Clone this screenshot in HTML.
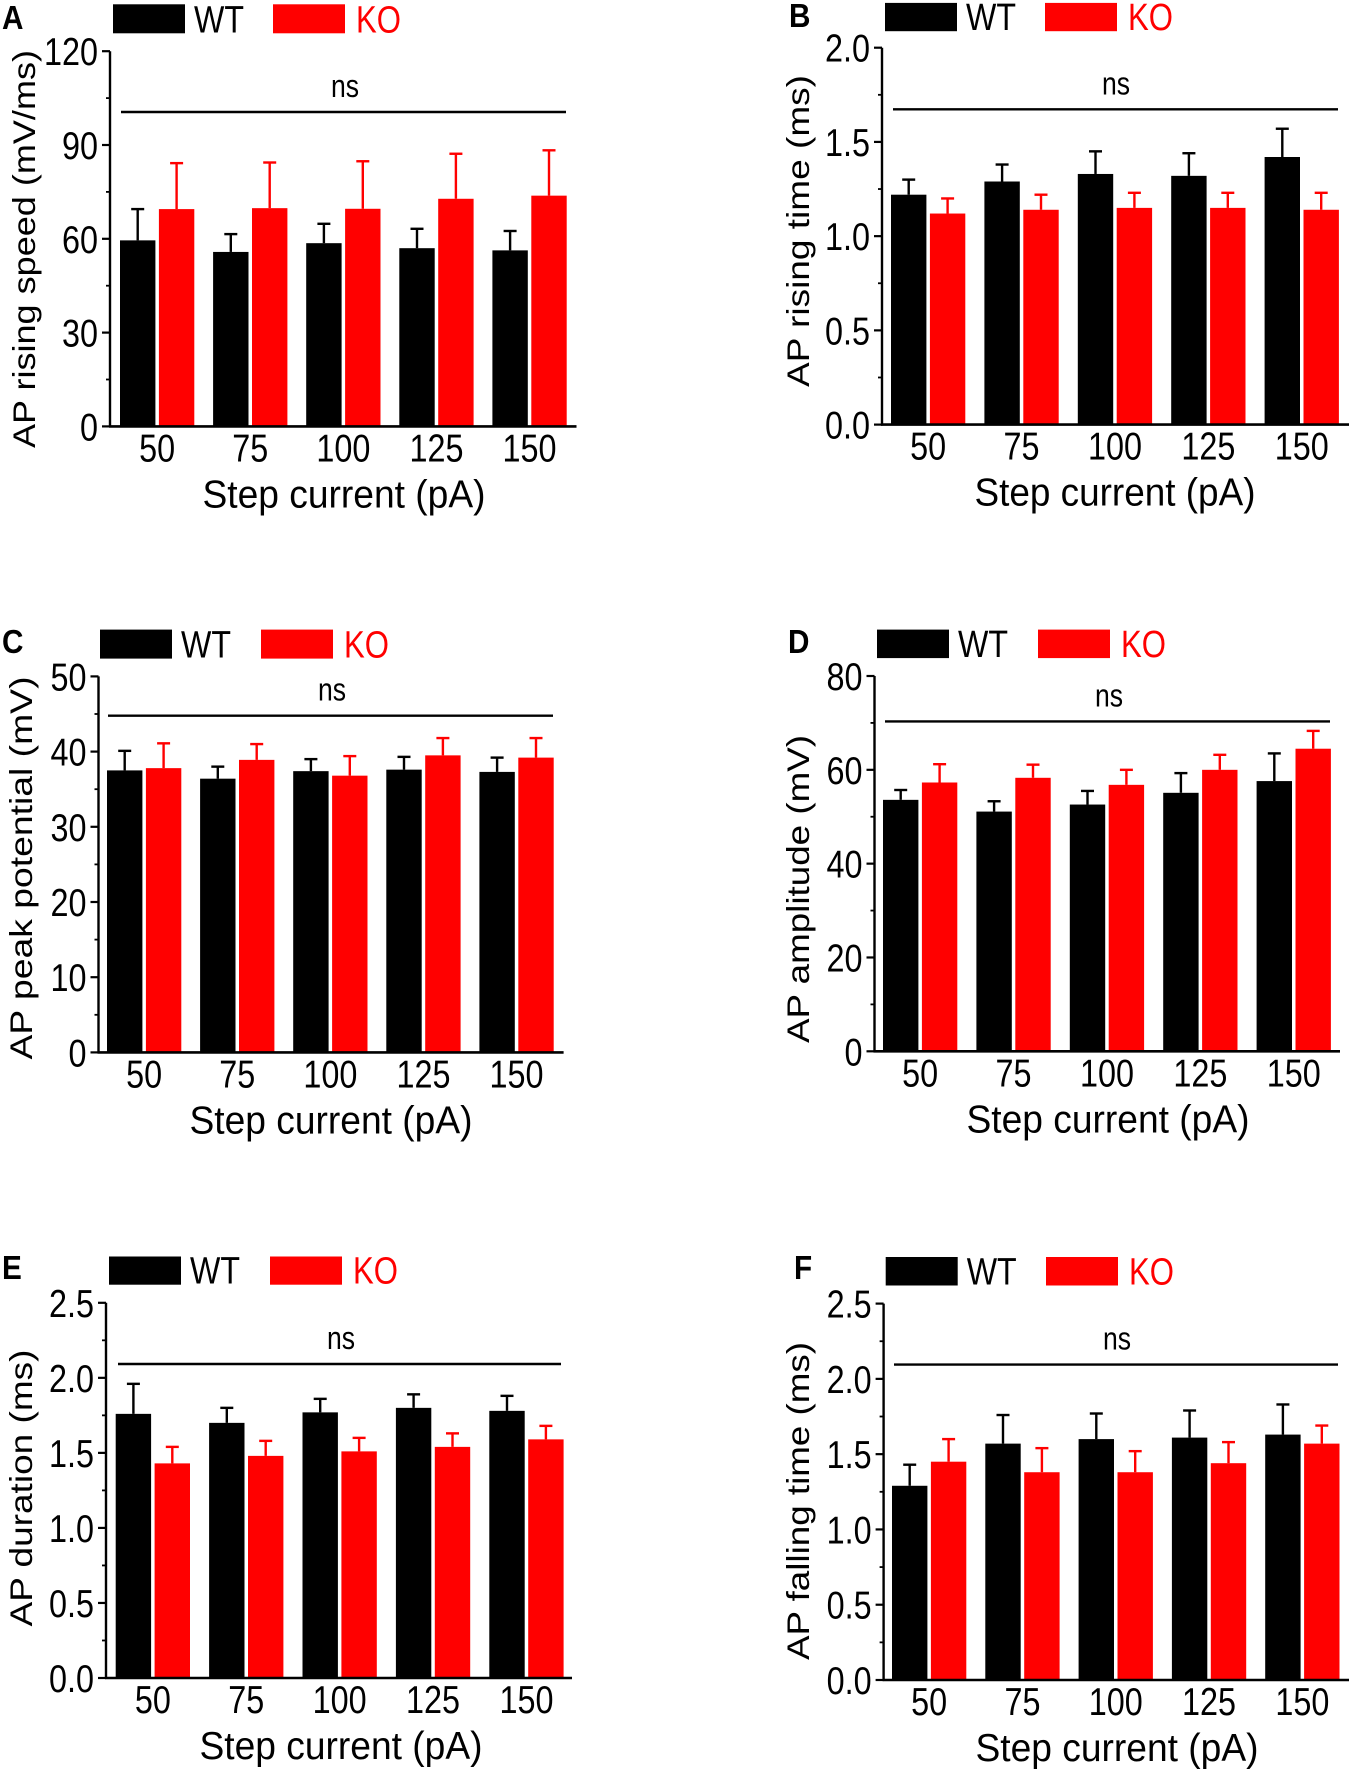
<!DOCTYPE html>
<html><head><meta charset="utf-8"><style>
html,body{margin:0;padding:0;background:#fff;}
svg{display:block;font-family:"Liberation Sans",Arial,sans-serif;}
</style></head><body>
<svg id="fig" width="1350" height="1769" viewBox="0 0 1350 1769" xmlns="http://www.w3.org/2000/svg"></svg>
<script>
const categories = ["50","75","100","125","150"];
// Panel A
const aWT = [59.5,55.8,58.6,57.0,56.3];
const aWTErr = [69.5,61.5,64.8,63.2,62.5];
const aKO = [69.5,69.8,69.6,72.8,73.8];
const aKOErr = [84.2,84.4,84.8,87.2,88.3];
const aTicks = [0,30,60,90,120];
// Panel B
const bWT = [1.22,1.29,1.33,1.32,1.42];
const bWTErr = [1.30,1.38,1.45,1.44,1.57];
const bKO = [1.12,1.14,1.15,1.15,1.14];
const bKOErr = [1.20,1.22,1.23,1.23,1.23];
const bTicks = ["0.0","0.5","1.0","1.5","2.0"];
// Panel C
const cWT = [37.5,36.4,37.4,37.6,37.3];
const cWTErr = [40.1,38.0,39.0,39.3,39.2];
const cKO = [37.8,38.9,36.8,39.5,39.2];
const cKOErr = [41.1,41.0,39.4,41.8,41.8];
const cTicks = [0,10,20,30,40,50];
// Panel D
const dWT = [53.6,51.1,52.6,55.1,57.6];
const dWTErr = [55.7,53.3,55.5,59.3,63.5];
const dKO = [57.3,58.3,56.8,60.0,64.5];
const dKOErr = [61.2,61.1,60.0,63.2,68.3];
const dTicks = [0,20,40,60,80];
// Panel E
const eWT = [1.76,1.70,1.77,1.80,1.78];
const eWTErr = [1.96,1.80,1.86,1.89,1.88];
const eKO = [1.43,1.48,1.51,1.54,1.59];
const eKOErr = [1.54,1.58,1.60,1.63,1.68];
const eTicks = ["0.0","0.5","1.0","1.5","2.0","2.5"];
// Panel F
const fWT = [1.29,1.57,1.60,1.61,1.63];
const fWTErr = [1.43,1.76,1.77,1.79,1.83];
const fKO = [1.45,1.38,1.38,1.44,1.57];
const fKOErr = [1.60,1.54,1.52,1.58,1.69];
const fTicks = ["0.0","0.5","1.0","1.5","2.0","2.5"];

const NS = "http://www.w3.org/2000/svg";
const svg = document.getElementById('fig');
function mk(tag, attrs, parent){
  const e = document.createElementNS(NS, tag);
  for (const k in attrs) e.setAttribute(k, attrs[k]);
  (parent||svg).appendChild(e);
  return e;
}

const panels = [
 {id:'a',L:'A',ax:110,top:51.2,bot:426.4,xe:576.5,b0:120,step:93.1,ns1:121,ns2:566,nsy:112,nsx:345,lgx:113,lgy:4.3,lgh:29,kox:273,lx:2,lb:29,
  ymax:120,minor:15,ticks:aTicks,wt:aWT,wte:aWTErr,ko:aKO,koe:aKOErr,yt:"AP rising speed (mV/ms)",ytx:35,yty:249,ytl:398,xtc:344,xtl:283},
 {id:'b',L:'B',ax:882,top:47.7,bot:424.6,xe:1349,b0:891,step:93.4,ns1:893,ns2:1338,nsy:109.3,nsx:1116,lgx:885,lgy:2.9,lgh:28.3,kox:1045,lx:789,lb:27,
  ymax:2,minor:0.25,ticks:bTicks,wt:bWT,wte:bWTErr,ko:bKO,koe:bKOErr,yt:"AP rising time (ms)",ytx:809,yty:231,ytl:312,xtc:1115,xtl:281},
 {id:'c',L:'C',ax:98.5,top:676.4,bot:1052.4,xe:563.6,b0:107,step:93.1,ns1:108,ns2:553,nsy:715.7,nsx:332,lgx:100,lgy:629.6,lgh:29,kox:261,lx:2,lb:653,
  ymax:50,minor:5,ticks:cTicks,wt:cWT,wte:cWTErr,ko:cKO,koe:cKOErr,yt:"AP peak potential (mV)",ytx:32,yty:868,ytl:383,xtc:331,xtl:283},
 {id:'d',L:'D',ax:874.5,top:676,bot:1051.3,xe:1340,b0:883,step:93.4,ns1:885,ns2:1330,nsy:721.4,nsx:1109,lgx:877,lgy:629.6,lgh:28.5,kox:1038,lx:788,lb:653,
  ymax:80,minor:10,ticks:dTicks,wt:dWT,wte:dWTErr,ko:dKO,koe:dKOErr,yt:"AP amplitude (mV)",ytx:809,yty:889,ytl:308,xtc:1108,xtl:283},
 {id:'e',L:'E',ax:106,top:1302.8,bot:1678,xe:572,b0:115.7,step:93.4,ns1:118,ns2:561,nsy:1364,nsx:341,lgx:109,lgy:1256.5,lgh:28.2,kox:270,lx:2,lb:1279,
  ymax:2.5,minor:0.25,ticks:eTicks,wt:eWT,wte:eWTErr,ko:eKO,koe:eKOErr,yt:"AP duration (ms)",ytx:32,yty:1488,ytl:277,xtc:341,xtl:283},
 {id:'f',L:'F',ax:883.6,top:1303.6,bot:1680,xe:1349,b0:892,step:93.3,ns1:894,ns2:1338,nsy:1364.6,nsx:1117,lgx:885.7,lgy:1257,lgh:28.5,kox:1046,lx:794,lb:1279,
  ymax:2.5,minor:0.25,ticks:fTicks,wt:fWT,wte:fWTErr,ko:fKO,koe:fKOErr,yt:"AP falling time (ms)",ytx:809,yty:1501,ytl:318,xtc:1117,xtl:283}
];

const BW = 35.4, KOOFF = 38.9, SX = 0.83;

panels.forEach(p => {
  const g = mk('g', {});
  
  
  const y = v => p.bot - (v / p.ymax) * (p.bot - p.top);

  const lt = mk('text', {transform:`translate(${p.lx},${p.lb}) scale(0.9,1)`, 'font-size':33, 'font-weight':'bold', fill:'#000'}, g);
  lt.textContent = p.L;
  
  

  const lw = mk('rect', {x:p.lgx, y:p.lgy, width:72, height:p.lgh, fill:'#000'}, g);
  
  
  const ltw = mk('text', {x:p.lgx+81, y:p.lgy+p.lgh-1, 'font-size':38, textLength:50, lengthAdjust:'spacingAndGlyphs', fill:'#000'}, g);
  ltw.textContent = 'WT';
  
  
  const lk = mk('rect', {x:p.kox, y:p.lgy, width:72, height:p.lgh, fill:'#ff0000'}, g);
  
  
  const ltk = mk('text', {x:p.kox+83, y:p.lgy+p.lgh-1, 'font-size':38, textLength:45, lengthAdjust:'spacingAndGlyphs', fill:'#ff0000'}, g);
  ltk.textContent = 'KO';
  
  

  categories.forEach((c, i) => {
    const xw = p.b0 + i * p.step;
    const xk = xw + KOOFF;
    [[xw, p.wt[i], p.wte[i], '#000', 'wt'], [xk, p.ko[i], p.koe[i], '#ff0000', 'ko']].forEach(([bx, v, e, col, s]) => {
      const cx = bx + BW / 2;
      const el = mk('line', {x1:cx, x2:cx, y1:y(v), y2:y(e), stroke:col, 'stroke-width':2.4}, g);
      
      
      const cap = mk('line', {x1:cx-6.5, x2:cx+6.5, y1:y(e), y2:y(e), stroke:col, 'stroke-width':2.4}, g);
      
      
      const r = mk('rect', {x:bx, y:y(v), width:BW, height:p.bot - y(v), fill:col}, g);
      
      
    });
    const xl = mk('text', {transform:`translate(${xw + (KOOFF + BW) / 2},${p.bot + 35}) scale(${SX},1)`, 'text-anchor':'middle', 'font-size':39, fill:'#000'}, g);
    xl.textContent = c;
    
    
  });

  const ya = mk('line', {x1:p.ax, x2:p.ax, y1:p.top, y2:p.bot+1, stroke:'#000', 'stroke-width':2.4}, g);
  
  
  const xa = mk('line', {x1:p.ax-1, x2:p.xe, y1:p.bot, y2:p.bot, stroke:'#000', 'stroke-width':2.6}, g);
  
  

  for (let v = p.minor; v < p.ymax; v += 2 * p.minor) {
    const mt = mk('line', {x1:p.ax-4, x2:p.ax, y1:y(v), y2:y(v), stroke:'#000', 'stroke-width':1.8}, g);
    
    
  }
  p.ticks.forEach(t => {
    const v = parseFloat(t);
    const tk = mk('line', {x1:p.ax-8, x2:p.ax, y1:y(v), y2:y(v), stroke:'#000', 'stroke-width':2.2}, g);
    
    
    const tl = mk('text', {transform:`translate(${p.ax-12},${y(v)+14}) scale(${SX},1)`, 'text-anchor':'end', 'font-size':39, fill:'#000'}, g);
    tl.textContent = String(t);
    
    
  });

  const nl = mk('line', {x1:p.ns1, x2:p.ns2, y1:p.nsy, y2:p.nsy, stroke:'#000', 'stroke-width':2.4}, g);
  
  
  const nt = mk('text', {transform:`translate(${p.nsx},${p.nsy-15}) scale(${SX},1)`, 'text-anchor':'middle', 'font-size':32, fill:'#000'}, g);
  nt.textContent = 'ns';
  
  

  const xt = mk('text', {x:p.xtc, y:p.bot+81, 'text-anchor':'middle', 'font-size':39, textLength:p.xtl, lengthAdjust:'spacingAndGlyphs', fill:'#000'}, g);
  xt.textContent = 'Step current (pA)';
  
  
  const yt = mk('text', {transform:`translate(${p.ytx},${p.yty}) scale(${SX},1) rotate(-90)`, 'text-anchor':'middle', 'font-size':38, textLength:p.ytl, lengthAdjust:'spacingAndGlyphs', fill:'#000'}, g);
  yt.textContent = p.yt;
  
  
});
</script>
</body></html>
